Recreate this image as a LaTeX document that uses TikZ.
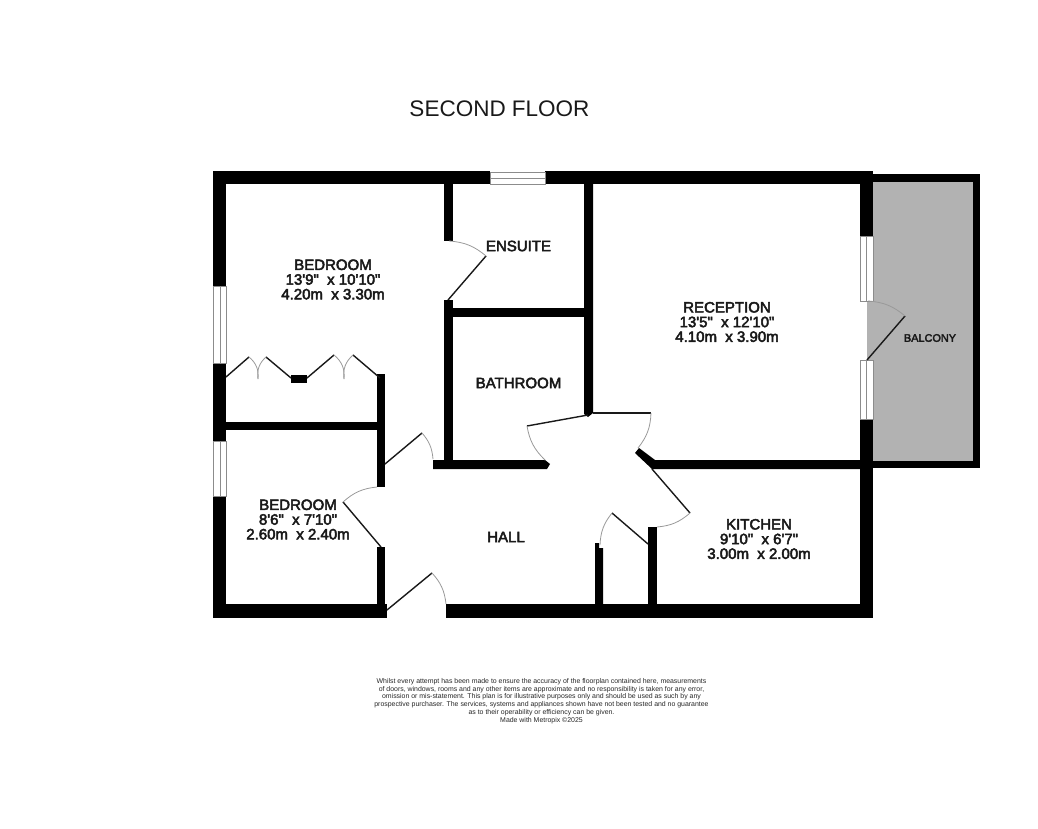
\documentclass[tikz,border=0pt]{standalone}
\usepackage{fontspec}
\newfontfamily\lab{Liberation Sans}[RawFeature={embolden=3.2}]
\newfontfamily\plain{Liberation Sans}
\tikzset{
  wall/.style={fill=black,draw=none},
  glass/.style={fill=white,draw=black!45,line width=0.8pt},
  pane/.style={draw=black!45,line width=0.8pt},
  leaf/.style={draw=black!90,line width=1.4pt},
  swing/.style={draw=black!40,line width=0.8pt},
  room/.style={font=\lab\fontsize{15}{14.7}\selectfont,align=center,text=black!90,inner sep=0pt},
  small/.style={font=\plain\fontsize{6.93}{7.8}\selectfont,align=center,text=black!85,inner sep=0pt}
}
\begin{document}
\begin{tikzpicture}[x=1pt,y=-1pt]
\useasboundingbox (0,0) rectangle (1038,829);
% balcony
\fill[black!30] (867,301) rectangle (873,360);
\fill[black!30] (873,182) rectangle (973,461);
\fill[wall] (873,174) rectangle (980,182);
\fill[wall] (973,174) rectangle (980,468);
\fill[wall] (873,461) rectangle (980,468);
% outer walls
\fill[wall] (213,171) rectangle (490,184.5);
\fill[wall] (545,171) rectangle (873,184.5);
\fill[wall] (213,171) rectangle (226,286);
\fill[wall] (213,363) rectangle (226,441);
\fill[wall] (213,496) rectangle (226,618);
\fill[wall] (213,604) rectangle (387,618);
\fill[wall] (446,604) rectangle (873,618);
\fill[wall] (860,171) rectangle (873,236);
\fill[wall] (860,419) rectangle (873,618);
% inner walls
\fill[wall] (444,184) rectangle (453,241);
\fill[wall] (444,300) rectangle (453,469);
\fill[wall] (453,308) rectangle (585,317);
\fill[wall] (584,184) -- (593,184) -- (593,413) -- (588,417) -- (584,414) -- cycle;
\fill[wall] (433,460) -- (545,460) -- (550,464) -- (547,469) -- (433,469) -- cycle;
\fill[wall] (377,374) rectangle (385,487);
\fill[wall] (377,547) rectangle (385,604);
\fill[wall] (226,422) rectangle (377,430);
\fill[wall] (635,453) -- (639,448) -- (655,460) -- (860,460) -- (860,469) -- (652,469) -- cycle;
\fill[wall] (648,527) rectangle (657,604);
\fill[wall] (595,543) -- (599,543) -- (599,548) -- (603,548) -- (603,604) -- (595,604) -- cycle;
% windows
\draw[glass] (490,172) rectangle (545,184); \draw[pane] (490,178) -- (545,178);
\draw[glass] (213.5,286) rectangle (226,363); \draw[pane] (220,286) -- (220,363);
\draw[glass] (213.5,441) rectangle (226,496); \draw[pane] (220,441) -- (220,496);
\draw[glass] (860,236) rectangle (873,301); \draw[pane] (866.5,236) -- (866.5,301);
\draw[glass] (860,360) rectangle (873,419); \draw[pane] (866.5,360) -- (866.5,419);
% wardrobe
\fill[wall] (291,375) rectangle (307,383);
\draw[leaf] (226,377) -- (249,357);
\draw[leaf] (266,357) -- (291,378);
\draw[leaf] (307,378) -- (334,355);
\draw[leaf] (353,355) -- (380,378);
\draw[swing] (249,357) to[bend left=28] (258,379);
\draw[swing] (266,357) to[bend right=28] (258,379);
\draw[swing] (334,355) to[bend left=28] (344,379);
\draw[swing] (353,355) to[bend right=28] (344,379);
% doors
\draw[leaf] (448,300) -- (486,256);
\draw[swing] (449,241) to[bend left=18] (486,256);
\draw[leaf] (385,464) -- (422,433);
\draw[swing] (422,433) to[bend left=18] (433,459);
\draw[leaf] (381,547) -- (343,502);
\draw[swing] (343,502) to[bend left=18] (377,487);
\draw[leaf] (387,610) -- (432,573);
\draw[swing] (432,573) to[bend left=18] (446,604);
\draw[leaf] (588,415) -- (527,426);
\draw[swing] (527,426) to[bend right=18] (545,460);
\draw[leaf] (593,413) -- (651,413);
\draw[swing] (651,413) to[bend left=18] (638,448);
\draw[leaf] (652,469) -- (690,513);
\draw[swing] (690,513) to[bend left=18] (657,527);
\draw[leaf] (648,544) -- (612,513);
\draw[swing] (612,513) to[bend right=18] (600,545);
\draw[leaf] (867,360) -- (905,316);
\draw[swing] (868,301) to[bend left=18] (905,316);
% labels
\node[inner sep=0pt,text=black!90,font=\plain\fontsize{22.5}{24}\selectfont] (title) at (499.5,108.7) {SECOND FLOOR};
\node[room] (bed1) at (333,279.5) {BEDROOM\\13'9"\ \ x 10'10"\\4.20m\ \ x 3.30m};
\node[room] (ensuite) at (518.5,246) {ENSUITE};
\node[room] (bath) at (518.5,383) {BATHROOM};
\node[room] (bed2) at (298,519.5) {BEDROOM\\8'6"\ \ x 7'10"\\2.60m\ \ x 2.40m};
\node[room] (hall) at (506,537) {HALL};
\node[room] (kitchen) at (759,539) {KITCHEN\\9'10"\ \ x 6'7"\\3.00m\ \ x 2.00m};
\node[room] (recep) at (727,322) {RECEPTION\\13'5"\ \ x 12'10"\\4.10m\ \ x 3.90m};
\node[room,font=\lab\fontsize{10.9}{12}\selectfont] (balc) at (930,338) {BALCONY};
\node[small] (note) at (541.5,701) {Whilst every attempt has been made to ensure the accuracy of the floorplan contained here, measurements\\of doors, windows, rooms and any other items are approximate and no responsibility is taken for any error,\\omission or mis-statement. This plan is for illustrative purposes only and should be used as such by any\\prospective purchaser. The services, systems and appliances shown have not been tested and no guarantee\\as to their operability or efficiency can be given.\\Made with Metropix \textcopyright 2025};
\end{tikzpicture}
\end{document}
